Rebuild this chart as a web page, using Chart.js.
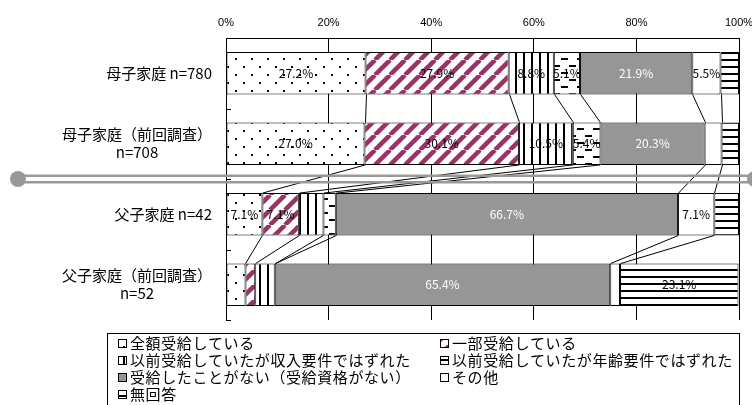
<!DOCTYPE html>
<html>
<head>
<meta charset="utf-8">
<script src="https://cdn.jsdelivr.net/npm/chart.js@4"></script>
<style>
  html, body { margin: 0; padding: 0; background: #fff; }
  #wrap { width: 752px; height: 405px; }
</style>
</head>
<body>
<div id="wrap"><canvas id="chart" width="752" height="405"></canvas></div>
<script>
// categories (rows) — each entry is the lines of the label
var categories = [
    ["母子家庭 n=780"],
    ["母子家庭（前回調査）", "n=708"],
    ["父子家庭 n=42"],
    ["父子家庭（前回調査）", "n=52"]
];
var seriesNames = [
    "全額受給している",
    "一部受給している",
    "以前受給していたが収入要件ではずれた",
    "以前受給していたが年齢要件ではずれた",
    "受給したことがない（受給資格がない）",
    "その他",
    "無回答"
];
var zengaku = [27.2, 27.0, 7.1, 3.8];
var ichibu = [27.9, 30.1, 7.1, 1.9];
var shunyu = [8.8, 10.5, 4.8, 3.8];
var nenrei = [5.1, 5.4, 2.4, 0];
var nashi = [21.9, 20.3, 66.7, 65.4];
var sonota = [5.5, 3.3, 7.1, 1.9];
var mukaito = [3.6, 3.4, 4.8, 23.1];
var xTicks = [0, 20, 40, 60, 80, 100];

var JP = '"Noto Sans CJK JP", "Noto Sans", sans-serif';

// pattern helpers
var pctx = document.createElement("canvas").getContext("2d");
function makePattern(w, h, draw) {
    var c = document.createElement("canvas");
    c.width = w; c.height = h;
    var g = c.getContext("2d");
    g.fillStyle = "#fff";
    g.fillRect(0, 0, w, h);
    draw(g, w, h);
    return pctx.createPattern(c, "repeat");
}
var dots = makePattern(16, 16, function (g) {
    g.fillStyle = "#000";
    g.fillRect(3, 2, 2, 2);
    g.fillRect(11, 10, 2, 2);
});
var stripes = makePattern(15, 15, function (g) {
    g.strokeStyle = "#993366";
    g.lineWidth = 4.5;
    [-15, 0, 15].forEach(function (x) {
        g.beginPath();
        g.moveTo(x, 15);
        g.lineTo(x + 15, 0);
        g.stroke();
    });
});
var vlines = makePattern(8, 8, function (g) {
    g.fillStyle = "#000";
    g.fillRect(3, 0, 2, 8);
});
var dashes = makePattern(16, 14, function (g) {
    g.fillStyle = "#000";
    g.fillRect(1, 2, 7, 2);
    g.fillRect(9, 9, 7, 2);
});
var hlines = makePattern(7, 7, function (g) {
    g.fillStyle = "#000";
    g.fillRect(0, 3, 7, 2);
});
var fills = [dots, stripes, vlines, dashes, "#969696", "#ffffff", hlines];
var values = [zengaku, ichibu, shunyu, nenrei, nashi, sonota, mukaito];

var datasets = seriesNames.map(function (name, i) {
    return {
        label: name,
        data: values[i],
        backgroundColor: fills[i],
        borderColor: "#000",
        borderWidth: 1,
        borderSkipped: false,
        categoryPercentage: 0.6,
        barPercentage: 1.0
    };
});

// draws labels, connector lines, separator, legend
var extras = {
    id: "extras",
    afterDatasetsDraw: function (chart) {
        var ctx = chart.ctx;
        var area = chart.chartArea;
        var yScale = chart.scales.y;
        ctx.save();

        // value labels
        ctx.font = "12px " + JP;
        ctx.textAlign = "center";
        ctx.textBaseline = "middle";
        chart.data.datasets.forEach(function (ds, d) {
            var meta = chart.getDatasetMeta(d);
            meta.data.forEach(function (bar, i) {
                var v = ds.data[i];
                if (v < 5) return;
                ctx.fillStyle = d === 4 ? "#fff" : "#000";
                ctx.fillText(v.toFixed(1) + "%", (bar.x + bar.base) / 2, bar.y);
            });
        });

        // series lines between rows
        ctx.strokeStyle = "#000";
        ctx.lineWidth = 1;
        for (var d = 0; d < chart.data.datasets.length - 1; d++) {
            var meta = chart.getDatasetMeta(d);
            for (var i = 0; i < meta.data.length - 1; i++) {
                var a = meta.data[i], b = meta.data[i + 1];
                ctx.beginPath();
                ctx.moveTo(Math.round(a.x) + 0.5, a.y + a.height / 2);
                ctx.lineTo(Math.round(b.x) + 0.5, b.y - b.height / 2);
                ctx.stroke();
            }
        }

        // inside tick marks on category axis
        var n = categories.length;
        var pitch = (area.bottom - area.top) / n;
        for (var k = 1; k <= n; k++) {
            var ty = Math.round(area.top + k * pitch) + 0.5;
            ctx.beginPath();
            ctx.moveTo(area.left, ty);
            ctx.lineTo(area.left + 5, ty);
            ctx.stroke();
        }
        ctx.beginPath();
        ctx.moveTo(area.left + 0.5, area.top);
        ctx.lineTo(area.left + 0.5, area.bottom);
        ctx.stroke();

        // category labels
        ctx.fillStyle = "#000";
        ctx.font = "15px " + JP;
        ctx.textAlign = "center";
        categories.forEach(function (lines, i) {
            var cy = yScale.getPixelForValue(i);
            var w = 0;
            lines.forEach(function (l) { w = Math.max(w, ctx.measureText(l).width); });
            var cx = area.left - 14 - w / 2;
            var lh = 18;
            lines.forEach(function (l, j) {
                ctx.fillText(l, cx, cy + (j - (lines.length - 1) / 2) * lh);
            });
        });

        // group separator
        var sy = (yScale.getPixelForValue(1) + yScale.getPixelForValue(2)) / 2;
        ctx.strokeStyle = "#999";
        ctx.lineWidth = 2.5;
        [-3.3, 3.3].forEach(function (off) {
            ctx.beginPath();
            ctx.moveTo(18, sy + off);
            ctx.lineTo(755, sy + off);
            ctx.stroke();
        });
        ctx.fillStyle = "#999";
        [18, 755].forEach(function (x) {
            ctx.beginPath();
            ctx.arc(x, sy, 8, 0, Math.PI * 2);
            ctx.fill();
        });

        // legend
        ctx.strokeStyle = "#000";
        ctx.lineWidth = 1;
        ctx.strokeRect(107.5, 333.5, 632, 80);
        ctx.font = "15px " + JP;
        ctx.letterSpacing = "0.6px";
        ctx.textAlign = "left";
        ctx.textBaseline = "middle";
        var colX = [118, 440];
        var rowY = [343, 360, 377, 394];
        chart.data.datasets.forEach(function (ds, d) {
            var x = colX[d % 2], y = rowY[Math.floor(d / 2)];
            ctx.fillStyle = ds.backgroundColor;
            ctx.fillRect(x, y - 4, 8, 8);
            ctx.strokeRect(x + 0.5, y - 3.5, 8, 8);
            ctx.fillStyle = "#000";
            ctx.fillText(ds.label, x + 12, y);
        });

        ctx.restore();
    }
};

new Chart(document.getElementById("chart"), {
    type: "bar",
    data: { labels: categories.map(function (c) { return c.join(" "); }), datasets: datasets },
    options: {
        indexAxis: "y",
        responsive: false,
        animation: false,
        layout: { padding: { left: 0, right: 13, top: 0, bottom: 85 } },
        plugins: {
            legend: { display: false },
            tooltip: { enabled: false }
        },
        scales: {
            x: {
                position: "top",
                stacked: true,
                min: 0,
                max: 100,
                afterBuildTicks: function (s) {
                    s.ticks = xTicks.map(function (v) { return { value: v }; });
                },
                ticks: {
                    color: "#000",
                    font: { size: 11, family: '"Liberation Sans", sans-serif' },
                    padding: 8,
                    maxRotation: 0,
                    callback: function (v) { return v + "%"; }
                },
                grid: { color: "#000", lineWidth: 1, drawTicks: false },
                border: { color: "#000", width: 1 },
                afterFit: function (s) {
                    s.height = 38;
                    s.paddingLeft = 0;
                    s.paddingRight = 0;
                }
            },
            y: {
                stacked: true,
                ticks: { display: false },
                grid: { display: false },
                border: { display: false },
                afterFit: function (s) { s.width = 226; }
            }
        }
    },
    plugins: [extras]
});
</script>
</body>
</html>
